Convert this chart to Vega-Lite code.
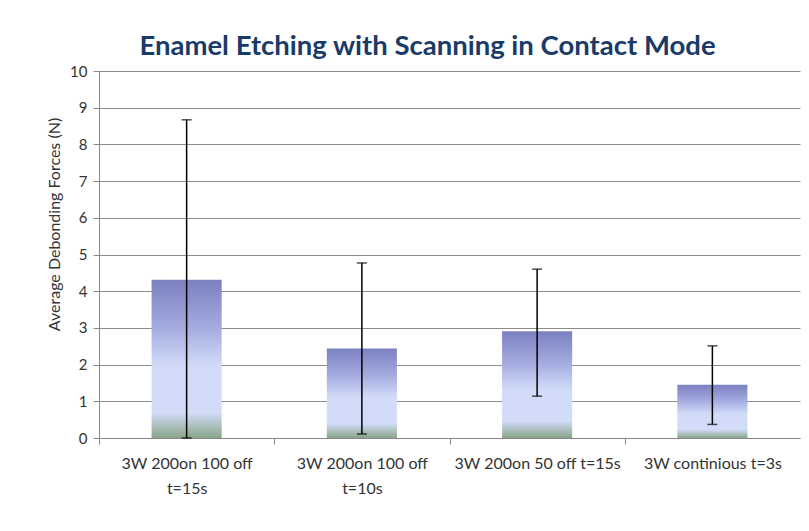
{
  "$schema": "https://vega.github.io/schema/vega-lite/v6.json",
  "autosize": {"type": "none"},
  "width": 701,
  "height": 367,
  "padding": {"left": 99, "top": 71, "right": 9, "bottom": 93},
  "background": "white",
  "config": {
    "view": {"stroke": null},
    "font": "Lato",
    "axisY": {
      "titleFont": "Lato",
      "titleFontSize": 16,
      "titleFontWeight": "normal",
      "titleColor": "#333333",
      "labelFont": "Lato",
      "labelFontSize": 15,
      "labelColor": "#333333",
      "labelPadding": 6,
      "tickSize": 6,
      "tickColor": "#888888",
      "domainColor": "#888888",
      "gridColor": "#8C8C8C",
      "gridWidth": 1,
      "gridOpacity": 1
    }
  },
  "title": {
    "text": "Enamel Etching with Scanning in Contact Mode",
    "font": "Lato",
    "fontSize": 27.5,
    "fontWeight": "bold",
    "color": "#1A3A68",
    "dx": -22,
    "offset": 4
  },
  "data": {
    "values": [
      {"condition": "3W 200on 100 off t=15s", "mean": 4.31, "lower": 0.0, "upper": 8.67},
      {"condition": "3W 200on 100 off t=10s", "mean": 2.44, "lower": 0.11, "upper": 4.77},
      {"condition": "3W 200on 50 off t=15s", "mean": 2.91, "lower": 1.14, "upper": 4.6},
      {"condition": "3W continious t=3s", "mean": 1.45, "lower": 0.37, "upper": 2.51}
    ]
  },
  "encoding": {
    "x": {
      "field": "condition",
      "type": "nominal",
      "sort": null,
      "scale": {"paddingInner": 0.6, "paddingOuter": 0.3},
      "axis": {
        "title": null,
        "labelAngle": 0,
        "labelFont": "Lato",
        "labelFontSize": 16,
        "labelColor": "#333333",
        "labelPadding": 11,
        "labelLineHeight": 25,
        "labelLimit": 200,
        "labelExpr": "length(datum.value) > 21 ? [substring(datum.value, 0, 16), substring(datum.value, 17)] : datum.value",
        "tickOffset": -87.5,
        "labelOffset": 87.5,
        "tickSize": 6,
        "tickColor": "#888888",
        "domainColor": "#888888",
        "grid": false
      }
    }
  },
  "layer": [
    {
      "mark": {
        "type": "bar",
        "color": {
          "gradient": "linear",
          "x1": 0, "y1": 0, "x2": 0, "y2": 1,
          "stops": [
            {"offset": 0, "color": "#7B80C0"},
            {"offset": 0.3, "color": "#A3ABDF"},
            {"offset": 0.55, "color": "#D2DCF9"},
            {"offset": 0.84, "color": "#D2DCF9"},
            {"offset": 1, "color": "#88A588"}
          ]
        }
      },
      "encoding": {
        "y": {
          "field": "mean",
          "type": "quantitative",
          "scale": {"domain": [0, 10]},
          "axis": {"title": "Average Debonding Forces (N)", "titleAnchor": "middle", "titleX": -37, "titleY": 153, "values": [0,1,2,3,4,5,6,7,8,9,10]}
        }
      }
    },
    {
      "mark": {"type": "rule", "color": "#000000", "strokeWidth": 1.5},
      "encoding": {
        "y": {"field": "lower", "type": "quantitative",
          "axis": {"title": "Average Debonding Forces (N)", "titleAnchor": "middle", "titleX": -37, "titleY": 153, "values": [0,1,2,3,4,5,6,7,8,9,10]}},
        "y2": {"field": "upper"}
      }
    },
    {
      "mark": {"type": "tick", "color": "#000000", "thickness": 1.5, "size": 10, "orient": "horizontal"},
      "encoding": {
        "y": {"field": "upper", "type": "quantitative",
          "axis": {"title": "Average Debonding Forces (N)", "titleAnchor": "middle", "titleX": -37, "titleY": 153, "values": [0,1,2,3,4,5,6,7,8,9,10]}}
      }
    },
    {
      "mark": {"type": "tick", "color": "#000000", "thickness": 1.5, "size": 10, "orient": "horizontal"},
      "encoding": {
        "y": {"field": "lower", "type": "quantitative",
          "axis": {"title": "Average Debonding Forces (N)", "titleAnchor": "middle", "titleX": -37, "titleY": 153, "values": [0,1,2,3,4,5,6,7,8,9,10]}}
      }
    }
  ]
}
